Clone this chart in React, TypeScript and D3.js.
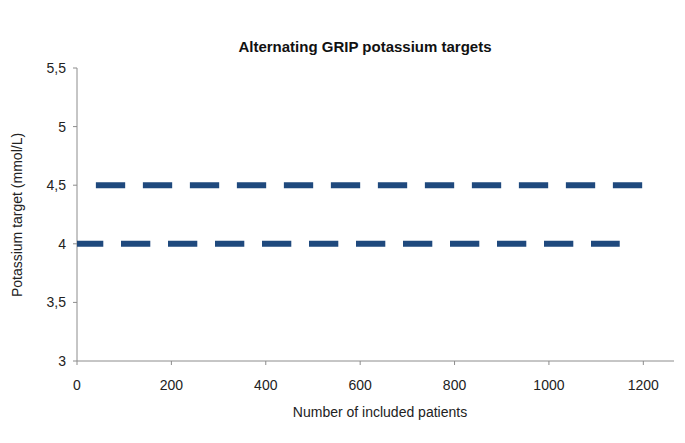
import React from "react";
import * as d3 from "d3";

const title = "Alternating GRIP potassium targets";
const xTitle = "Number of included patients";
const yTitle = "Potassium target (mmol/L)";
const xTicks = [0, 200, 400, 600, 800, 1000, 1200];
const yTicks = [3, 3.5, 4, 4.5, 5, 5.5];
const lowTarget = [
  { x: 0, y: 4 },
  { x: 1150, y: 4 },
];
const highTarget = [
  { x: 40, y: 4.5 },
  { x: 1200, y: 4.5 },
];

const W = 685;
const H = 443;
const left = 77;
const top = 68;
const bottom = 361;
const xMax = 1265;
const axisRight = 674;

export default function App() {
  const x = d3.scaleLinear().domain([0, xMax]).range([left, axisRight]);
  const y = d3.scaleLinear().domain([3, 5.5]).range([bottom, top]);
  const line = d3
    .line<{ x: number; y: number }>()
    .x((d) => x(d.x))
    .y((d) => y(d.y));
  const fmt = (v: number) => String(v).replace(".", ",");
  const font = "'Liberation Sans', Arial, sans-serif";
  const axisColor = "#8c8c8c";
  return (
    <svg
      width={W}
      height={H}
      style={{ position: "absolute", left: 0, top: 0, background: "#fff" }}
      fontFamily={font}
    >
      <text x={365} y={52} textAnchor="middle" fontSize={15} fontWeight="bold" fill="#111">
        {title}
      </text>
      {/* y axis */}
      <line x1={left} x2={left} y1={top} y2={bottom} stroke={axisColor} strokeWidth={1} />
      {yTicks.map((t) => (
        <g key={t}>
          <line x1={left - 4} x2={left} y1={y(t)} y2={y(t)} stroke={axisColor} />
          <text x={left - 11} y={y(t)} dy="0.35em" textAnchor="end" fontSize={14} fill="#222">
            {fmt(t)}
          </text>
        </g>
      ))}
      {/* x axis */}
      <line x1={left} x2={axisRight} y1={bottom} y2={bottom} stroke={axisColor} strokeWidth={1} />
      {xTicks.map((t) => (
        <g key={t}>
          <line x1={x(t)} x2={x(t)} y1={bottom} y2={bottom + 4} stroke={axisColor} />
          <text x={x(t)} y={bottom + 29} textAnchor="middle" fontSize={14} fill="#222">
            {t}
          </text>
        </g>
      ))}
      <text x={380} y={417} textAnchor="middle" fontSize={14} fill="#222">
        {xTitle}
      </text>
      <text
        transform={`translate(22, 215) rotate(-90)`}
        textAnchor="middle"
        fontSize={14}
        fill="#222"
      >
        {yTitle}
      </text>
      <path
        d={line(lowTarget) ?? ""}
        fill="none"
        stroke="#1F497D"
        strokeWidth={6}
        strokeDasharray="29.3 17.7"
        strokeDashoffset={3}
      />
      <path
        d={line(highTarget) ?? ""}
        fill="none"
        stroke="#1F497D"
        strokeWidth={6}
        strokeDasharray="29.3 17.7"
      />
    </svg>
  );
}
